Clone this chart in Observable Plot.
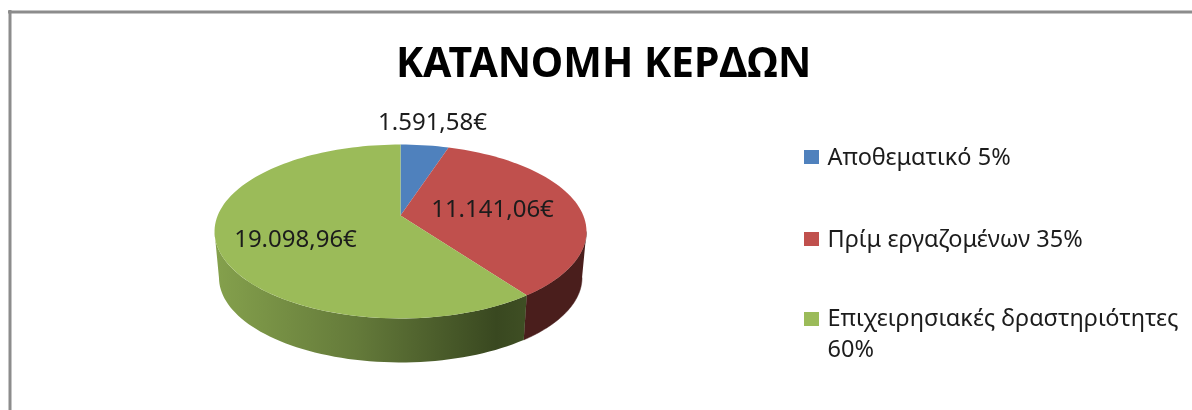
<!DOCTYPE html>
<html>
<head>
<meta charset="utf-8">
<script src="https://cdn.jsdelivr.net/npm/d3@7"></script>
<script src="https://cdn.jsdelivr.net/npm/@observablehq/plot@0.6"></script>
<style>
html,body{margin:0;padding:0;background:#fff;overflow:hidden}
svg{display:block;filter:blur(0.6px)}
</style>
</head>
<body>
<div id="chart"></div>
<script>
const chartTitle = "ΚΑΤΑΝΟΜΗ ΚΕΡΔΩΝ";
const categories = ["Αποθεματικό 5%", "Πρίμ εργαζομένων 35%", "Επιχειρησιακές δραστηριότητες\n60%"];
const amounts = [1591.58, 11141.06, 19098.96];
const amountLabels = ["1.591,58€", "11.141,06€", "19.098,96€"];
const topColors = ["#4f81bd", "#c0504d", "#9bbb59"];

const total = d3.sum(amounts);
const cum = d3.cumsum(amounts);
const A = 182.8, B = 84, K = 0.184, CX = 400, CY = 215;
function rim(t, s = 1, cy = CY) {
  const u = Math.sin(t), v = Math.cos(t), w = 1 + K * v;
  return {x: CX + s * A * u / w, y: cy - s * B * v / w};
}
const turn = f => f * 2 * Math.PI;
const STEPS = 180;
const faces = [];
amounts.forEach((a, i) => {
  const f0 = (cum[i] - a) / total, f1 = cum[i] / total;
  const n = Math.max(4, Math.round((f1 - f0) * STEPS));
  faces.push({slice: i, ...rim(0, 0)});
  for (let j = 0; j <= n; ++j) faces.push({slice: i, ...rim(turn(f0 + (f1 - f0) * j / n))});
  faces.push({slice: i, ...rim(0, 0)});
});
function side(f0, f1, slice) {
  const n = 60, out = [];
  for (let j = 0; j <= n; ++j) out.push({slice, ...rim(turn(f0 + (f1 - f0) * j / n))});
  for (let j = n; j >= 0; --j) out.push({slice, ...rim(turn(f0 + (f1 - f0) * j / n), 0.976, 261.5)});
  return out;
}
const f2r = cum[1] / total;
const sideRed = side(0.28, f2r, 1);
const sideGreen = side(f2r, 0.72, 2);

const legendRows = categories.map((c, i) => ({c, i, color: topColors[i]}));
const swatchY = [150, 232, 312];
const legendBase = [164, 246, 325];
const labelX = [432, 492, 295], labelY = [129, 216, 246];

const plot = Plot.plot({
  width: 1192, height: 410, margin: 0,
  x: {domain: [0, 1192], range: [0, 1192], axis: null},
  y: {domain: [0, 410], range: [0, 410], axis: null},
  style: {background: "#fff", fontFamily: "'Noto Sans', sans-serif"},
  marks: [
    Plot.ruleY([11.5], {x1: 8, x2: 1192, stroke: "#8c8c8c", strokeWidth: 3}),
    Plot.ruleX([9.5], {y1: 10, y2: 410, stroke: "#8c8c8c", strokeWidth: 3}),
    Plot.line(sideRed, {x: "x", y: "y", fill: "#4a1e1c", stroke: "#4a1e1c", strokeWidth: 0.5, curve: "linear"}),
    Plot.line(sideGreen, {x: "x", y: "y", fill: "url(#sideGreen)", stroke: "none", curve: "linear"}),
    Plot.line(faces, {x: "x", y: "y", z: "slice", fill: d => topColors[d.slice], stroke: "none", curve: "linear"}),
    Plot.text(amountLabels, {x: (d, i) => labelX[i], y: (d, i) => labelY[i], text: d => d, lineAnchor: "bottom", fontSize: 24, fill: "#1c1c1c"}),
    Plot.text([chartTitle], {x: 603, y: 76, text: d => d, lineAnchor: "bottom", fontSize: 41, fontWeight: 700, fill: "#000"}),
    Plot.rect(legendRows, {x1: 804, x2: 819, y1: (d, i) => swatchY[i], y2: (d, i) => swatchY[i] + 14, fill: "color"}),
    Plot.text(legendRows, {x: 827, y: (d, i) => legendBase[i], text: "c", textAnchor: "start", lineAnchor: "top", dy: -22, fontSize: 23.5, lineHeight: 1.32, fill: "#1c1c1c"})
  ]
});
const svgNS = "http://www.w3.org/2000/svg";
const defs = document.createElementNS(svgNS, "defs");
defs.innerHTML = `<linearGradient id="sideGreen" gradientUnits="userSpaceOnUse" x1="217" x2="527" y1="0" y2="0">
<stop offset="0" stop-color="#84a04c"/><stop offset="0.45" stop-color="#647a3a"/><stop offset="0.9" stop-color="#394820"/><stop offset="1" stop-color="#3f4f24"/></linearGradient>`;
plot.insertBefore(defs, plot.firstChild);
document.getElementById("chart").appendChild(plot);
</script>
</body>
</html>
